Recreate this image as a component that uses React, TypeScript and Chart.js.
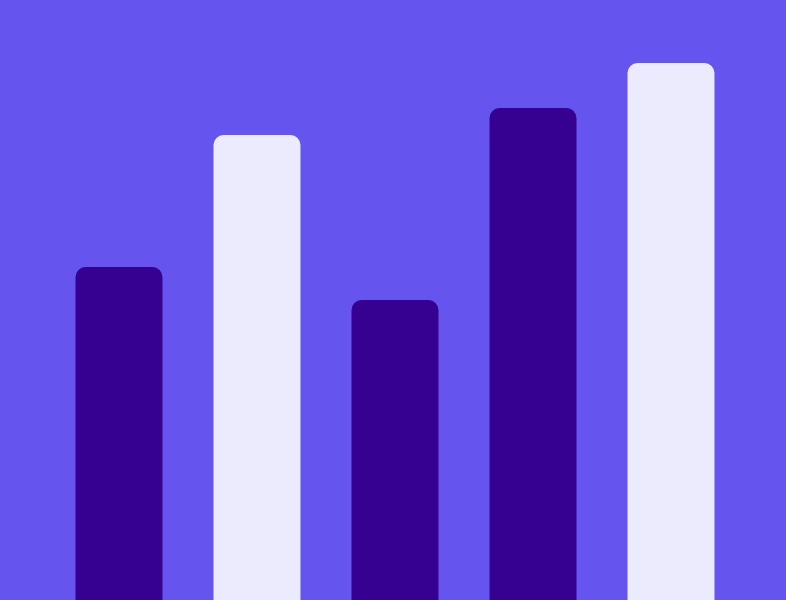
import React, { useEffect, useRef } from "react";
import { Chart, registerables } from "chart.js";

Chart.register(...registerables);

const categories = ["A", "B", "C", "D", "E"];
const values = [55.5, 77.5, 50, 82, 89.5];
const barColors = ["#360090", "#ECEBFE", "#360090", "#360090", "#ECEBFE"];
const BG = "#6554ED";

export default function App() {
  const ref = useRef<HTMLCanvasElement | null>(null);

  useEffect(() => {
    document.body.style.margin = "0";
    document.body.style.background = BG;
    const canvas = ref.current;
    if (!canvas) return;
    const chart = new Chart(canvas, {
      type: "bar",
      data: {
        labels: categories,
        datasets: [
          {
            data: values,
            backgroundColor: barColors,
            borderWidth: 0,
            borderRadius: 10,
            borderSkipped: "start",
            barPercentage: 0.9,
            categoryPercentage: 0.7,
          },
        ],
      },
      options: {
        animation: false,
        responsive: false,
        devicePixelRatio: 1,
        layout: { padding: { left: 50, right: 46, top: 0, bottom: 0 } },
        plugins: { legend: { display: false }, tooltip: { enabled: false } },
        scales: {
          x: { display: false },
          y: { display: false, min: 0, max: 100 },
        },
      },
    });
    return () => chart.destroy();
  }, []);

  return (
    <div style={{ width: 786, height: 600, background: BG, overflow: "hidden" }}>
      <canvas ref={ref} width={786} height={600} style={{ display: "block" }} />
    </div>
  );
}
